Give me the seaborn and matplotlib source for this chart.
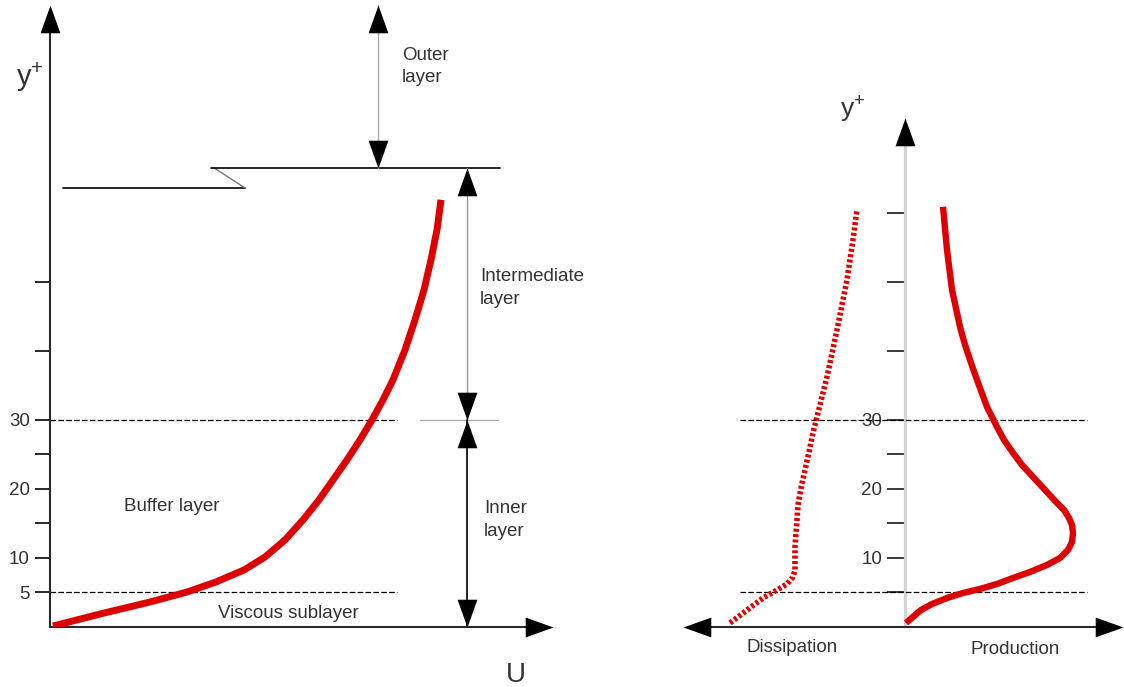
import matplotlib
matplotlib.use("Agg")
import matplotlib.pyplot as plt
import numpy as np
import pandas as pd
import seaborn as sns

# ---- mean velocity profile U(y+) ----
u_prof_y = [0.14, 1.88, 3.62, 5.07, 6.52, 8.26, 10.14, 12.61, 15.51, 18.41, 21.30,
            24.20, 27.10, 30.00, 32.90, 35.80, 40.14, 44.49, 48.84, 53.19, 57.54, 61.88]
u_prof_u = [0.3, 5.0, 10.0, 13.7, 16.6, 19.4, 21.5, 23.5, 25.3, 26.9, 28.3,
            29.7, 31.0, 32.2, 33.3, 34.3, 35.5, 36.5, 37.4, 38.1, 38.7, 39.1]

# ---- turbulent kinetic energy budget ----
prod_y = [0.58, 1.59, 2.46, 3.33, 4.20, 4.93, 5.51, 6.23, 7.10, 7.97, 8.99, 10.0,
          11.16, 12.32, 13.62, 14.78, 15.80, 16.96, 17.97, 19.86, 21.74, 23.48,
          25.22, 27.10, 28.99, 31.88, 35.80, 38.26, 40.87, 43.48, 48.84, 54.64, 60.87]
prod_v = [0.1, 0.9, 1.6, 2.7, 4.2, 5.8, 7.5, 9.2, 10.8, 12.5, 14.2, 15.5,
          16.3, 16.7, 16.8, 16.7, 16.4, 15.9, 15.2, 14.0, 12.8, 11.7,
          10.8, 9.9, 9.2, 8.2, 7.2, 6.6, 6.0, 5.5, 4.7, 4.2, 3.8]
diss_y = [0.58, 2.46, 4.20, 5.36, 6.23, 7.25, 8.26, 9.71, 11.59, 13.62, 15.51,
          17.68, 20.14, 22.75, 25.36, 28.12, 31.01, 33.91, 36.23, 43.04, 50.29,
          56.09, 60.43]
diss_v = [17.5, 15.8, 14.2, 12.8, 11.8, 11.2, 11.0, 11.0, 11.0, 10.9, 10.8,
          10.7, 10.4, 10.0, 9.6, 9.2, 8.7, 8.2, 7.8, 6.8, 5.8, 5.2, 4.8]

# ---- y+ axis ticks and region limits ----
ticks_left = [5, 10, 15, 20, 25, 30, 40, 50]
labels_left = ["5", "10", "", "20", "", "30", "", ""]
ticks_right = [5, 10, 15, 20, 25, 30, 40, 50, 60]
labels_right = ["", "10", "", "20", "", "30", "", "", ""]
sublayer_top = 5
buffer_top = 30
break_low, break_high = 63.6, 66.5

RED = "#dc0000"
INK = "#2a2a2a"
TXT = "#333333"

sns.set_theme(style="white")
plt.rcParams["font.family"] = ["Liberation Sans", "DejaVu Sans"]
plt.rcParams["mathtext.default"] = "regular"

W, H = 1124, 687
fig = plt.figure(figsize=(W / 100, H / 100), dpi=100)
fig.patch.set_facecolor("white")

YMAX = 90.1
axL = fig.add_axes([50 / W, 60 / H, 503 / W, 622 / H])
axR = fig.add_axes([683 / W, 60 / H, 440 / W, 622 / H])
axL.set_xlim(0, 50.3)
axR.set_xlim(-22.2, 21.8)
for ax in (axL, axR):
    ax.set_ylim(0, YMAX)
    ax.set_facecolor("none")
    for s in ax.spines.values():
        s.set_visible(False)
    ax.set_xticks([])
    ax.set_xlabel("")
    ax.set_ylabel("")

# arrow heads as custom markers whose tip sits on the data point
HEAD_UP = [(0, 0), (-0.357, -1), (0.357, -1), (0, 0)]
HEAD_DOWN = [(x, -y) for x, y in HEAD_UP]
HEAD_RIGHT = [(y, x) for x, y in HEAD_UP]
HEAD_LEFT = [(-y, x) for x, y in HEAD_UP]


def head(ax, x, y, verts, ms=40):
    ax.plot([x], [y], marker=verts, ms=ms, color="black", mew=0,
            linestyle="none", clip_on=False, zorder=6)


# ---------------- left panel: velocity profile ----------------
axL.plot([0, 0], [0, YMAX - 2], color=INK, lw=1.5, clip_on=False, zorder=4)
head(axL, 0, YMAX, HEAD_UP)
axL.plot([0, 48], [0, 0], color=INK, lw=1.5, clip_on=False, zorder=4)
head(axL, 50.3, 0, HEAD_RIGHT)

axL.set_yticks(ticks_left)
axL.set_yticklabels(labels_left)
axL.tick_params(axis="y", left=True, length=11, width=1.4, color=INK,
                labelsize=13.5, labelcolor=TXT, pad=3.5)

for yv in (sublayer_top, buffer_top):
    axL.plot([0, 34.7], [yv, yv], color="black", lw=0.9,
             linestyle=(0, (4.5, 1.8)), zorder=2)

sns.lineplot(x=u_prof_u, y=u_prof_y, ax=axL, color=RED, lw=5, sort=False,
             estimator=None, orient="y", zorder=5, solid_capstyle="butt",
             solid_joinstyle="round")

# break in the y+ scale between the inner and outer regions
axL.plot([1.3, 19.5], [break_low, break_low], color="black", lw=1.2, clip_on=False)
axL.plot([19.5, 16.4], [break_low, break_high], color="#777777", lw=1.0, clip_on=False)
axL.plot([16.1, 45.0], [break_high, break_high], color="black", lw=1.2, clip_on=False)
axL.plot([37.0, 44.8], [buffer_top, buffer_top], color="#aaaaaa", lw=0.9)

# region extent arrows
xo, xi = 32.8, 41.7
axL.plot([xo, xo], [break_high, YMAX], color="#aaaaaa", lw=1.0, clip_on=False)
head(axL, xo, YMAX, HEAD_UP)
head(axL, xo, break_high, HEAD_DOWN)
axL.plot([xi, xi], [buffer_top, break_high], color="#999999", lw=1.0)
head(axL, xi, break_high, HEAD_UP)
head(axL, xi, buffer_top, HEAD_DOWN)
axL.plot([xi, xi], [0, buffer_top], color="black", lw=1.2)
head(axL, xi, buffer_top, HEAD_UP)
head(axL, xi, 0, HEAD_DOWN)

fs = 13.5
axL.text(35.2, 81.2, "Outer\nlayer", fontsize=fs, color=TXT, va="center", ha="left", linespacing=1.4)
axL.text(43.0, 49.1, "Intermediate\nlayer", fontsize=fs, color=TXT, va="center", ha="left", linespacing=1.4)
axL.text(43.4, 15.5, "Inner\nlayer", fontsize=fs, color=TXT, va="center", ha="left", linespacing=1.4)
axL.text(7.4, 17.4, "Buffer layer", fontsize=fs, color=TXT, va="center", ha="left")
axL.text(16.8, 2.0, "Viscous sublayer", fontsize=fs, color=TXT, va="center", ha="left")
axL.text(45.6, -7.0, "U", fontsize=20, color=TXT, va="center", ha="left", clip_on=False)
axL.text(-2.0, 79.6, "$y^{+}$", fontsize=21, color=TXT, va="center", ha="center", clip_on=False)

# ---------------- right panel: production and dissipation ----------------
YTOP_R = 73.8
axR.spines["left"].set_position(("data", 0))
axR.plot([0, 0], [0, YTOP_R - 2], color="#d4d4d4", lw=2.3, zorder=1)
head(axR, 0, YTOP_R, HEAD_UP)
axR.plot([-20, 20], [0, 0], color=INK, lw=1.5, clip_on=False, zorder=4)
head(axR, -22.2, 0, HEAD_LEFT)
head(axR, 21.8, 0, HEAD_RIGHT)

axR.set_yticks(ticks_right)
axR.set_yticklabels(labels_right)
axR.tick_params(axis="y", left=True, length=13, width=1.3, color=INK,
                labelsize=13.5, labelcolor=TXT, pad=3.5)

for yv in (sublayer_top, buffer_top):
    axR.plot([-16.5, 18.2], [yv, yv], color="black", lw=0.9,
             linestyle=(0, (4.5, 1.8)), zorder=3)

sns.lineplot(x=prod_v, y=prod_y, ax=axR, color=RED, lw=4.6, sort=False,
             estimator=None, orient="y", zorder=5, solid_capstyle="butt",
             solid_joinstyle="round")
sns.lineplot(x=[-v for v in diss_v], y=diss_y, ax=axR, color=RED, lw=4.0,
             sort=False, estimator=None, orient="y", zorder=5,
             linestyle=(0, (0.55, 0.42)))

axR.text(-5.2, 74.9, "$y^{+}$", fontsize=19, color=TXT, va="center", ha="center", clip_on=False)
axR.text(-15.8, -2.9, "Dissipation", fontsize=fs, color=TXT, va="center", ha="left", clip_on=False)
axR.text(6.5, -3.3, "Production", fontsize=fs, color=TXT, va="center", ha="left", clip_on=False)

fig.savefig("out.png", dpi=100, facecolor="white")
